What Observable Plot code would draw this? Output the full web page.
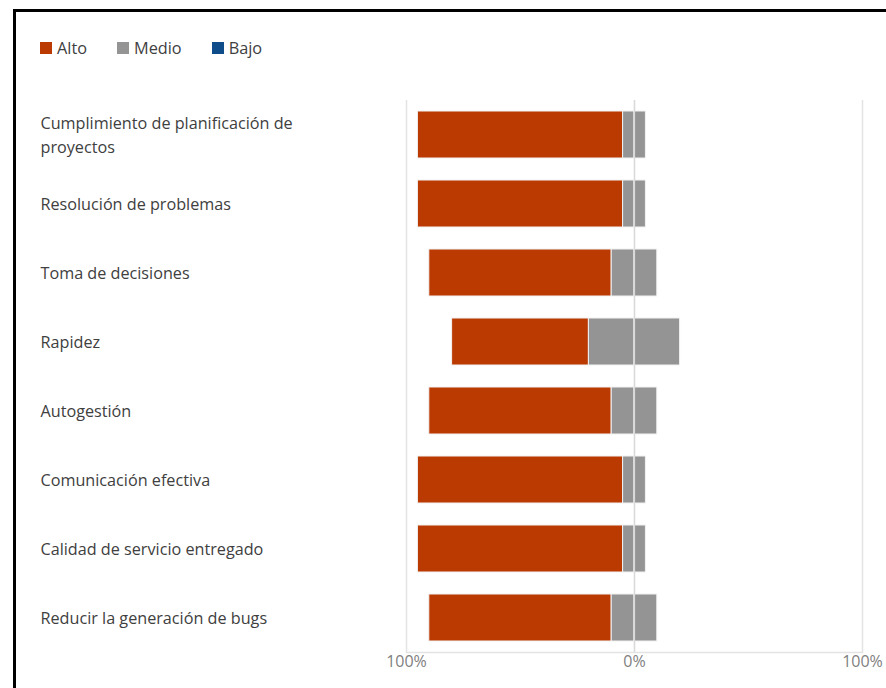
<!DOCTYPE html>
<html>
<head>
<meta charset="utf-8">
<script src="https://cdn.jsdelivr.net/npm/d3@7"></script>
<script src="https://cdn.jsdelivr.net/npm/@observablehq/plot@0.6"></script>
<style>
  html, body { margin: 0; padding: 0; background: #fff; }
  body { width: 886px; height: 688px; position: relative; overflow: hidden; font-family: "Open Sans", "Noto Sans", sans-serif; }
  #frame { position: absolute; left: 13px; top: 9px; width: 900px; height: 700px; border-top: 3px solid #000; border-left: 3px solid #000; box-sizing: border-box; pointer-events: none; z-index: 3; }
  #legend { position: absolute; left: 40px; top: 37px; display: flex; gap: 0; font-size: 16.3px; color: #404040; z-index: 2; }
  #legend .item { display: flex; align-items: center; margin-right: 30px; }
  #legend .sw { width: 12px; height: 12px; margin-right: 5px; }
  #chart { position: absolute; left: 0; top: 0; }
</style>
</head>
<body>
<div id="frame"></div>
<div id="legend"></div>
<div id="chart"></div>
<script>
const categories = [
  "Cumplimiento de planificación de proyectos",
  "Resolución de problemas",
  "Toma de decisiones",
  "Rapidez",
  "Autogestión",
  "Comunicación efectiva",
  "Calidad de servicio entregado",
  "Reducir la generación de bugs"
];
const alto  = [90, 90, 80, 60, 80, 90, 90, 80];
const medio = [10, 10, 20, 40, 20, 10, 10, 20];
const bajo  = [0, 0, 0, 0, 0, 0, 0, 0];
const seriesNames = ["Alto", "Medio", "Bajo"];
const seriesColors = ["#bb3a02", "#949494", "#0e4d8a"];
const xTicks = [-100, 0, 100];

// legend
const legend = document.getElementById("legend");
seriesNames.forEach((n, i) => {
  const it = document.createElement("div");
  it.className = "item";
  it.innerHTML = `<span class="sw" style="background:${seriesColors[i]}"></span><span>${n}</span>`;
  legend.appendChild(it);
});

// diverging segments
const segs = [];
categories.forEach((c, i) => {
  const h = medio[i] / 2;
  segs.push({cat: c, series: "Alto", x1: -h - alto[i], x2: -h});
  segs.push({cat: c, series: "Medio", x1: -h, x2: 0});
  segs.push({cat: c, series: "Medio", x1: 0, x2: h});
  segs.push({cat: c, series: "Bajo", x1: h, x2: h + bajo[i]});
});

const chart = Plot.plot({
  width: 886,
  height: 688,
  marginTop: 100,
  marginBottom: 36,
  marginLeft: 406,
  marginRight: 24,
  style: {fontFamily: "'Open Sans', 'Noto Sans', sans-serif", background: "transparent"},
  x: {domain: [-100, 100], ticks: xTicks, axis: null},
  y: {domain: categories, paddingInner: 0.32, paddingOuter: 0.16, axis: null},
  color: {domain: seriesNames, range: seriesColors},
  marks: [
    Plot.ruleX(xTicks, {stroke: "#e3e3e3", strokeWidth: 1.5}),
    Plot.frame({anchor: "bottom", stroke: "#e3e3e3", strokeWidth: 1.5}),
    Plot.barX(segs.filter(d => d.x2 > d.x1), {y: "cat", x1: "x1", x2: "x2", fill: "series", stroke: "#f2f2f2", strokeWidth: 1}),
    Plot.ruleX([0], {stroke: "#d9d9d9", strokeWidth: 1.2}),
    Plot.text(categories, {y: d => d, frameAnchor: "left", dx: -366, dy: -1.5, textAnchor: "start", text: d => d, lineWidth: 17.5, lineHeight: 1.5, fontSize: 16.2, fill: "#404040"}),
    Plot.text(xTicks, {x: d => d, frameAnchor: "bottom", dy: 14, text: d => Math.abs(d) + "%", fontSize: 16, fill: "#808080"})
  ]
});
document.getElementById("chart").appendChild(chart);
</script>
</body>
</html>
